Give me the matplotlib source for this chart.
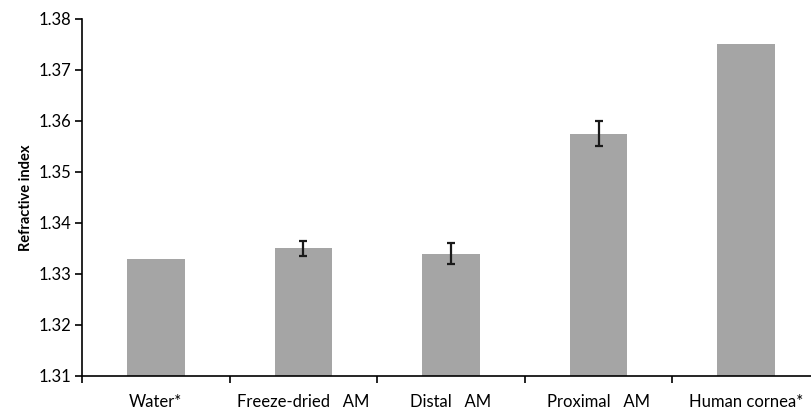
import matplotlib.pyplot as plt
import numpy as np

plt.rcParams['font.family'] = ['Lato', 'DejaVu Sans']

categories = ['Water*', 'Freeze-dried   AM', 'Distal   AM', 'Proximal   AM', 'Human cornea*']
values = [1.333, 1.335, 1.334, 1.3575, 1.375]
errors = [0, 0.0014, 0.002, 0.0025, 0]

fig = plt.figure(figsize=(8.11, 4.12), dpi=100)
ax = fig.add_axes([0.1011, 0.0874, 0.91, 0.8665])

x = np.arange(len(categories))
ax.bar(x, values, width=0.39, color='#a5a5a5', zorder=2)
for xi, v, e in zip(x, values, errors):
    if e > 0:
        ax.errorbar(xi, v, yerr=e, fmt='none', ecolor='#1a1a1a',
                    elinewidth=1.6, capsize=2.9, capthick=1.6, zorder=3)

ax.set_xlim(-0.5, 4.5)
ax.set_ylim(1.31, 1.38)
ticks = np.arange(1.31, 1.3801, 0.01)
ax.set_yticks(ticks)
ax.set_yticklabels(['%.2f' % t for t in ticks])

ax.set_xticks(np.arange(-0.5, 4.0, 1.0))
ax.set_xticklabels([])
ax.set_xticks(x, minor=True)
ax.set_xticklabels(categories, minor=True)
ax.tick_params(axis='x', which='minor', length=0, pad=13, labelsize=12)
ax.tick_params(axis='x', which='major', length=5, width=1.2, direction='out')
ax.tick_params(axis='y', length=5, width=1.2, direction='out', pad=3, labelsize=12)

ax.spines['top'].set_visible(False)
ax.spines['right'].set_visible(False)
ax.spines['left'].set_linewidth(1.2)
ax.spines['bottom'].set_linewidth(1.2)

ax.set_ylabel('Refractive index', fontweight='bold', fontsize=10.5, labelpad=4)

fig.savefig('out.png', dpi=100)
